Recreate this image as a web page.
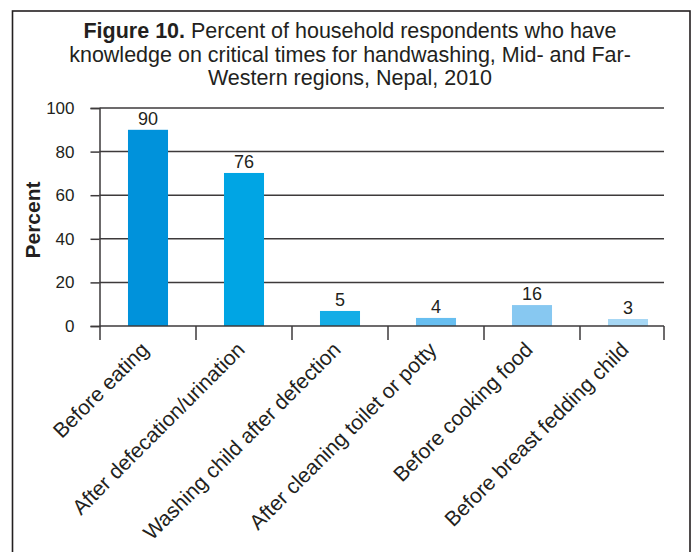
<!DOCTYPE html>
<html>
<head>
<meta charset="utf-8">
<script src="https://cdn.jsdelivr.net/npm/d3@7"></script>
<style>
  body { margin: 0; background: #fff; }
  text { font-family: 'Liberation Sans', Arial, sans-serif; fill: #231f20; }
</style>
</head>
<body>
<div id="chart"></div>
<script>
'use strict';

// categories along the x axis
const categories = [
  'Before eating',
  'After defecation/urination',
  'Washing child after defection',
  'After cleaning toilet or potty',
  'Before cooking food',
  'Before breast fedding child',
];

// bar heights as drawn in the figure
const barValues = [90, 70.2, 6.9, 3.7, 9.6, 3.2];

// value labels printed above the bars
const valueLabels = ['90', '76', '5', '4', '16', '3'];

// bar fill colours
const barColors = ['#0092db', '#00a5e4', '#14ade6', '#67bef0', '#87c8f1', '#a6d7f4'];

// y axis ticks
const yTicks = [0, 20, 40, 60, 80, 100];

// title lines
const titleLines = [
  ['Figure 10.', ' Percent of household respondents who have'],
  ['', 'knowledge on critical times for handwashing, Mid- and Far-'],
  ['', 'Western regions, Nepal, 2010'],
];

(function() {
  const width = 697;
  const height = 552;

  const svg = d3
    .select('#chart')
    .append('svg')
    .attr('width', width)
    .attr('height', height);

  // outer frame
  svg
    .append('rect')
    .attr('x', 12.5)
    .attr('y', 11)
    .attr('width', 677.5)
    .attr('height', 560)
    .attr('fill', 'none')
    .attr('stroke', '#231f20')
    .attr('stroke-width', 1.6);

  // title
  const title = svg
    .append('text')
    .attr('text-anchor', 'middle')
    .style('font-size', '21.5px');

  titleLines.forEach((line, i) => {
    const t = title
      .append('tspan')
      .attr('x', 350)
      .attr('y', 38 + i * 23.5);
    if (line[0]) {
      t.append('tspan').style('font-weight', 'bold').text(line[0]);
    }
    t.append('tspan').text(line[1]);
  });

  // scales
  const plotLeft = 99.5;
  const plotRight = 664;
  const xScale = d3
    .scaleBand()
    .domain(categories)
    .range([100, 676])
    .paddingInner(0.583)
    .paddingOuter(0.2915);

  const yScale = d3
    .scaleLinear()
    .domain([0, 100])
    .range([326, 108]);

  // gridlines
  svg
    .append('g')
    .selectAll('line')
    .data(yTicks.filter(d => d > 0))
    .enter()
    .append('line')
    .attr('x1', plotLeft)
    .attr('x2', plotRight)
    .attr('y1', d => yScale(d))
    .attr('y2', d => yScale(d))
    .attr('stroke', '#3d3a3b')
    .attr('stroke-width', 1.5);

  // y axis
  const yAxis = d3
    .axisLeft(yScale)
    .tickValues(yTicks)
    .tickSize(9)
    .tickPadding(16);

  const yG = svg
    .append('g')
    .attr('transform', 'translate(' + plotLeft + ', 0)')
    .call(yAxis);
  yG.select('.domain').attr('stroke', '#3d3a3b').attr('stroke-width', 1.5);
  yG.selectAll('.tick line').attr('stroke', '#3d3a3b').attr('stroke-width', 1.5);
  yG.selectAll('.tick text')
    .style('font-size', '17px')
    .style('font-family', "'Liberation Sans', Arial, sans-serif")
    .attr('fill', '#231f20');

  // y axis title
  svg
    .append('text')
    .attr('transform', 'translate(40, 220)rotate(-90)')
    .attr('text-anchor', 'middle')
    .style('font-size', '21px')
    .style('font-weight', 'bold')
    .text('Percent');

  // bars
  svg
    .append('g')
    .selectAll('rect')
    .data(categories)
    .enter()
    .append('rect')
    .attr('x', d => xScale(d))
    .attr('width', xScale.bandwidth())
    .attr('y', (d, i) => yScale(barValues[i]))
    .attr('height', (d, i) => yScale(0) - yScale(barValues[i]))
    .attr('fill', (d, i) => barColors[i]);

  // value labels
  svg
    .append('g')
    .selectAll('text')
    .data(categories)
    .enter()
    .append('text')
    .attr('x', d => xScale(d) + xScale.bandwidth() / 2)
    .attr('y', (d, i) => yScale(barValues[i]) - 5)
    .attr('text-anchor', 'middle')
    .style('font-size', '18px')
    .text((d, i) => valueLabels[i]);

  // x axis line and boundary ticks
  const xAxisG = svg.append('g');
  xAxisG
    .append('line')
    .attr('x1', plotLeft)
    .attr('x2', plotRight)
    .attr('y1', yScale(0))
    .attr('y2', yScale(0))
    .attr('stroke', '#3d3a3b')
    .attr('stroke-width', 1.5);

  const step = xScale.step();
  const boundaries = categories.map(c => xScale(c) - (step - xScale.bandwidth()) / 2);
  boundaries.push(plotRight);

  xAxisG
    .selectAll('.xtick')
    .data(boundaries)
    .enter()
    .append('line')
    .attr('class', 'xtick')
    .attr('x1', d => d)
    .attr('x2', d => d)
    .attr('y1', yScale(0))
    .attr('y2', yScale(0) + 14)
    .attr('stroke', '#3d3a3b')
    .attr('stroke-width', 1.5);

  // rotated category labels
  xAxisG
    .selectAll('.xlabel')
    .data(categories)
    .enter()
    .append('text')
    .attr('class', 'xlabel')
    .attr('text-anchor', 'end')
    .attr('transform', d =>
      'translate(' + (xScale(d) + xScale.bandwidth() / 2 + 2) + ', 351)rotate(-45)')
    .style('font-size', '21px')
    .text(d => d);
})();
</script>
</body>
</html>
